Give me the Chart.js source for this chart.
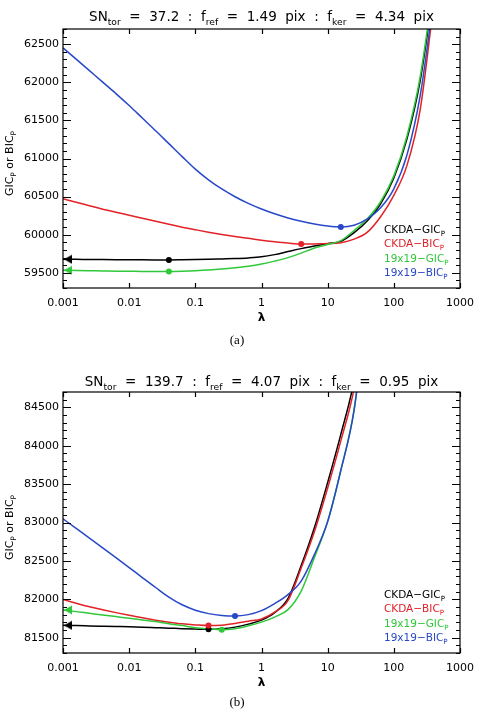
<!DOCTYPE html>
<html>
<head>
<meta charset="utf-8">
<script src="https://cdn.jsdelivr.net/npm/chart.js@4.4.0/dist/chart.umd.min.js"></script>
<style>
  body { margin: 0; background: #fff; }
  .panel { position: relative; width: 483px; }
</style>
</head>
<body>
<div class="panel" style="height:355px"><canvas id="graficoA"></canvas></div>
<div class="panel" style="height:354px"><canvas id="graficoB"></canvas></div>
<script>
// Rejilla de lambda (eje x logaritmico)
var lambdas = [0.001, 0.00158, 0.00251, 0.00398, 0.00631, 0.01, 0.0158, 0.0251, 0.0398, 0.0631,
  0.1, 0.158, 0.251, 0.398, 0.631, 1, 1.58, 2.51, 3.98, 6.31,
  10, 15.8, 25.1, 39.8, 63.1, 100, 158, 251, 398];
var ticksX = [0.001, 0.01, 0.1, 1, 10, 100, 1000];

// Panel (a)
var ticksYA = [59500, 60000, 60500, 61000, 61500, 62000, 62500];
var ckdaGicA = [59677, 59676, 59674, 59673, 59672, 59671, 59670, 59669, 59668, 59670,
  59673, 59677, 59682, 59687, 59695, 59709, 59738, 59778, 59817, 59850,
  59882, 59912, 60026, 60183, 60406, 60746, 61257, 62029, 63207];
var ckdaBicA = [60471, 60425, 60380, 60334, 60295, 60255, 60216, 60177, 60137, 60098,
  60065, 60033, 60003, 59976, 59952, 59928, 59908, 59890, 59876, 59879,
  59883, 59895, 59941, 60033, 60236, 60517, 60910, 61649, 63010];
var gic19A = [59533, 59529, 59526, 59524, 59521, 59520, 59518, 59518, 59517, 59520,
  59526, 59535, 59548, 59565, 59585, 59614, 59653, 59699, 59758, 59826,
  59872, 59921, 60055, 60209, 60432, 60772, 61296, 62081, 63272];
var bic19A = [62452, 62304, 62153, 62003, 61852, 61695, 61531, 61365, 61195, 61025,
  60860, 60720, 60600, 60498, 60411, 60337, 60274, 60220, 60175, 60139,
  60113, 60101, 60124, 60209, 60353, 60602, 61047, 61832, 63076];

// Panel (b)
var ticksYB = [81500, 82000, 82500, 83000, 83500, 84000, 84500];
var ckdaGicB = [81660, 81657, 81653, 81649, 81645, 81641, 81636, 81630, 81624, 81617,
  81612, 81608, 81615, 81637, 81676, 81728, 81826, 82009, 82439, 82935,
  83522, 84148, 84852, 86000];
var ckdaBicB = [81996, 81947, 81902, 81863, 81826, 81791, 81758, 81728, 81702, 81680,
  81666, 81657, 81663, 81685, 81715, 81744, 81833, 81983, 82407, 82883,
  83450, 84063, 84748, 85900];
var gic19B = [81861, 81839, 81817, 81795, 81774, 81753, 81731, 81709, 81681, 81657,
  81630, 81614, 81604, 81617, 81654, 81702, 81768, 81865, 82107, 82544,
  83013, 83678, 84474, 85896];
var bic19B = [83048, 82923, 82797, 82670, 82542, 82413, 82283, 82153, 82028, 81928,
  81858, 81813, 81788, 81781, 81800, 81852, 81944, 82061, 82237, 82583,
  83013, 83678, 84465, 85896];

var NEGRO = '#000000', ROJO = '#e22228', VERDE = '#2fc83a', AZUL = '#2848c8';
var FUENTE = '"DejaVu Sans"';

// Dibuja texto con subindices: partes = [[texto, esSub], ...]
function textoRico(ctx, partes, x, y, tam, centrar) {
  var anchos = partes.map(function (p) {
    ctx.font = (p[1] ? tam * 0.68 : tam) + 'px ' + FUENTE;
    return ctx.measureText(p[0]).width;
  });
  var total = anchos.reduce(function (a, b) { return a + b; }, 0);
  var xi = centrar ? x - total / 2 : x;
  partes.forEach(function (p, i) {
    ctx.font = (p[1] ? tam * 0.68 : tam) + 'px ' + FUENTE;
    ctx.fillText(p[0], xi, y + (p[1] ? tam * 0.3 : 0));
    xi += anchos[i];
  });
}

// Triangulo que apunta a la izquierda, con la punta en el centro del lienzo
function crearTriangulo(color) {
  var c = document.createElement('canvas');
  c.width = 20; c.height = 10;
  var g = c.getContext('2d');
  g.fillStyle = color;
  g.beginPath();
  g.moveTo(11, 5); g.lineTo(19, 0.5); g.lineTo(19, 9.5);
  g.closePath(); g.fill();
  return c;
}

function indiceMinimo(arr) {
  var m = 0;
  arr.forEach(function (v, i) { if (v < arr[m]) m = i; });
  return m;
}

// Marco, marcas hacia dentro y textos del panel
var marcoPlugin = {
  id: 'marco',
  afterDraw: function (chart, args, op) {
    var ctx = chart.ctx, a = chart.chartArea;
    var sx = chart.scales.x, sy = chart.scales.y;
    ctx.save();
    ctx.strokeStyle = '#000';
    ctx.lineWidth = 1.2;
    ctx.strokeRect(a.left, a.top, a.right - a.left, a.bottom - a.top);
    ctx.beginPath();
    ticksX.forEach(function (v) {
      var px = Math.round(sx.getPixelForValue(v)) + 0.5;
      ctx.moveTo(px, a.bottom); ctx.lineTo(px, a.bottom - 5);
      ctx.moveTo(px, a.top); ctx.lineTo(px, a.top + 5);
    });
    for (var v = Math.ceil(sy.min / 100) * 100; v <= sy.max; v += 100) {
      var py = Math.round(sy.getPixelForValue(v)) + 0.5;
      var largo = v % 500 === 0 ? 8 : 4;
      ctx.moveTo(a.left, py); ctx.lineTo(a.left + largo, py);
      ctx.moveTo(a.right, py); ctx.lineTo(a.right - largo, py);
    }
    ctx.stroke();

    ctx.fillStyle = '#000';
    ctx.textAlign = 'left';
    ctx.textBaseline = 'alphabetic';
    // Titulo
    textoRico(ctx, op.titulo, (a.left + a.right) / 2, op.lineaTitulo, 13.5, true);

    // Titulo del eje y (girado)
    ctx.save();
    ctx.translate(13, (a.top + a.bottom) / 2 + 5);
    ctx.rotate(-Math.PI / 2);
    textoRico(ctx, [['GIC', 0], ['P', 1], [' or BIC', 0], ['P', 1]], 0, 0, 11, true);
    ctx.restore();

    // Leyenda
    op.leyenda.forEach(function (l, i) {
      ctx.fillStyle = l.color;
      textoRico(ctx, [[l.texto, 0], ['P', 1]], 384, a.bottom - 55 + i * 14.3, 10.5, false);
    });

    // Etiqueta lambda y (a)/(b)
    ctx.fillStyle = '#000';
    ctx.textAlign = 'center';
    ctx.textBaseline = 'middle';
    ctx.font = 'bold 12px ' + FUENTE;
    ctx.fillText('\u03bb', (a.left + a.right) / 2, a.bottom + 30);
    ctx.font = '13px "Liberation Serif"';
    ctx.fillText(op.etiqueta, 237, a.bottom + op.bajaEtiqueta);
    ctx.restore();
  }
};

function crearPanel(id, series, minY, maxY, ticksY, op) {
  var datasets = series.map(function (s, k) {
    return {
      type: 'line',
      label: s.texto,
      data: s.valores.map(function (y, i) { return { x: lambdas[i], y: y }; }),
      borderColor: s.color,
      borderWidth: 1.5,
      pointRadius: 0,
      cubicInterpolationMode: 'monotone',
      fill: false,
      order: 4 - k
    };
  });

  // Puntos en el minimo de cada curva
  datasets.push({
    type: 'scatter',
    data: series.map(function (s) {
      var im = indiceMinimo(s.valores);
      return { x: lambdas[im], y: s.valores[im] };
    }),
    pointRadius: 3,
    pointBorderWidth: 0,
    pointBackgroundColor: series.map(function (s) { return s.color; }),
    clip: false,
    order: 0
  });

  // Flechas en lambda minimo para las curvas GIC
  var conFlecha = series.filter(function (s) { return s.flecha; });
  datasets.push({
    type: 'scatter',
    data: conFlecha.map(function (s) { return { x: lambdas[0], y: s.valores[0] }; }),
    pointStyle: conFlecha.map(function (s) { return crearTriangulo(s.color); }),
    pointRadius: 5,
    clip: false,
    order: 0
  });

  op.leyenda = series;

  new Chart(document.getElementById(id), {
    type: 'line',
    data: { datasets: datasets },
    options: {
      responsive: true,
      maintainAspectRatio: false,
      animation: false,
      events: [],
      layout: { padding: { top: op.arriba, right: 20, left: 0, bottom: 0 } },
      plugins: {
        legend: { display: false },
        tooltip: { enabled: false },
        marco: op
      },
      scales: {
        x: {
          type: 'logarithmic',
          min: 0.001,
          max: 1000,
          grid: { display: false, drawTicks: false },
          border: { display: false },
          afterBuildTicks: function (s) { s.ticks = ticksX.map(function (v) { return { value: v }; }); },
          afterFit: function (s) { s.height = op.altoX; },
          ticks: {
            color: '#000',
            font: { family: 'DejaVu Sans', size: 11 },
            padding: 9,
            maxRotation: 0,
            autoSkip: false,
            callback: function (v) { return String(v); }
          }
        },
        y: {
          min: minY,
          max: maxY,
          grid: { display: false, drawTicks: false },
          border: { display: false },
          afterBuildTicks: function (s) { s.ticks = ticksY.map(function (v) { return { value: v }; }); },
          afterFit: function (s) { s.width = 63; },
          ticks: {
            color: '#000',
            font: { family: 'DejaVu Sans', size: 11 },
            padding: 4,
            callback: function (v) { return String(v); }
          }
        }
      }
    },
    plugins: [marcoPlugin]
  });
}

crearPanel('graficoA', [
  { texto: 'CKDA\u2212GIC', color: NEGRO, valores: ckdaGicA, flecha: true },
  { texto: 'CKDA\u2212BIC', color: ROJO, valores: ckdaBicA },
  { texto: '19x19\u2212GIC', color: VERDE, valores: gic19A, flecha: true },
  { texto: '19x19\u2212BIC', color: AZUL, valores: bic19A }
], 59300, 62700, ticksYA, {
  titulo: [['SN', 0], ['tor', 1], ['  =  37.2  :  f', 0], ['ref', 1], ['  =  1.49  pix  :  f', 0], ['ker', 1], ['  =  4.34  pix', 0]],
  lineaTitulo: 20.7,
  arriba: 29,
  altoX: 67,
  etiqueta: '(a)',
  bajaEtiqueta: 53
});

crearPanel('graficoB', [
  { texto: 'CKDA\u2212GIC', color: NEGRO, valores: ckdaGicB, flecha: true },
  { texto: 'CKDA\u2212BIC', color: ROJO, valores: ckdaBicB },
  { texto: '19x19\u2212GIC', color: VERDE, valores: gic19B, flecha: true },
  { texto: '19x19\u2212BIC', color: AZUL, valores: bic19B }
], 81300, 84700, ticksYB, {
  titulo: [['SN', 0], ['tor', 1], ['  =  139.7  :  f', 0], ['ref', 1], ['  =  4.07  pix  :  f', 0], ['ker', 1], ['  =  0.95  pix', 0]],
  lineaTitulo: 30.7,
  arriba: 37,
  altoX: 56,
  etiqueta: '(b)',
  bajaEtiqueta: 50
});
</script>
</body>
</html>
